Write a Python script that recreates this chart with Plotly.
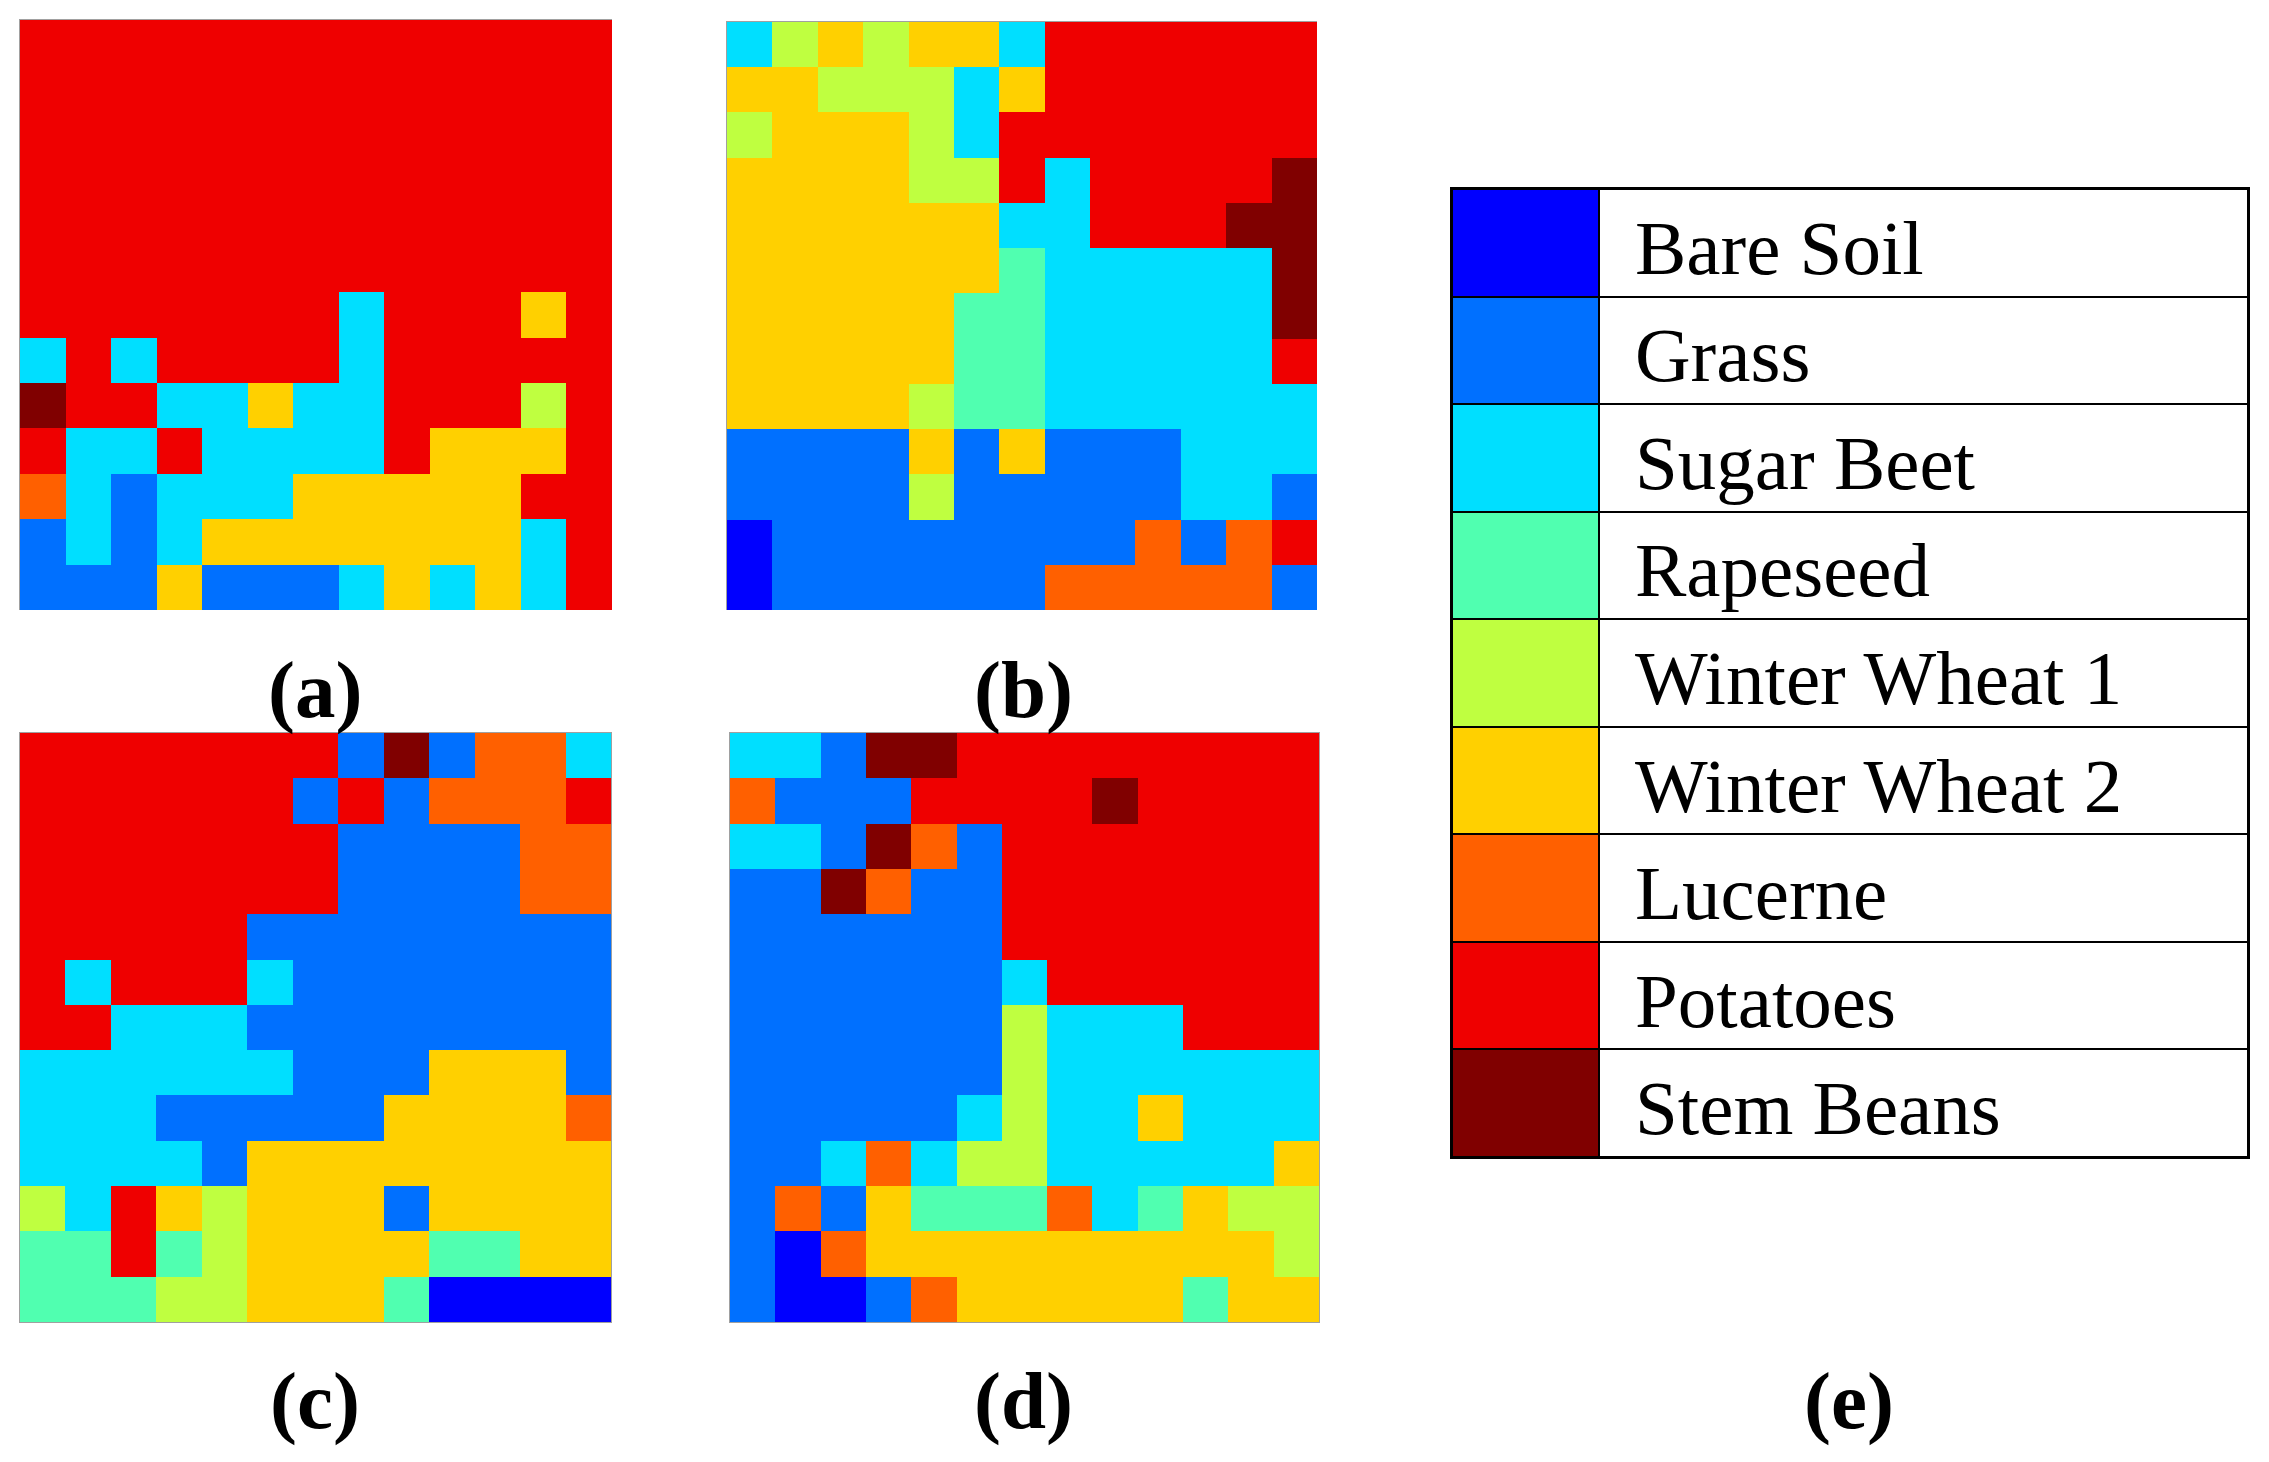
import plotly.graph_objects as go

WIDTH = 2269
HEIGHT = 1462

# classes in legend order, with their one letter codes used in the maps below
crops = ["Bare Soil", "Grass", "Sugar Beet", "Rapeseed", "Winter Wheat 1",
         "Winter Wheat 2", "Lucerne", "Potatoes", "Stem Beans"]
codes = "BGSRWYLPT"
crop_colors = ["#0000FF", "#0070FF", "#00DFFF", "#50FFB0", "#BFFF40",
               "#FFD000", "#FF6000", "#EF0000", "#800000"]

map_a = [
    "PPPPPPPPPPPPP",
    "PPPPPPPPPPPPP",
    "PPPPPPPPPPPPP",
    "PPPPPPPPPPPPP",
    "PPPPPPPPPPPPP",
    "PPPPPPPPPPPPP",
    "PPPPPPPSPPPYP",
    "SPSPPPPSPPPPP",
    "TPPSSYSSPPPWP",
    "PSSPSSSSPYYYP",
    "LSGSSSYYYYYPP",
    "GSGSYYYYYYYSP",
    "GGGYGGGSYSYSP",
]
map_b = [
    "SWYWYYSPPPPPP",
    "YYWWWSYPPPPPP",
    "WYYYWSPPPPPPP",
    "YYYYWWPSPPPPT",
    "YYYYYYSSPPPTT",
    "YYYYYYRSSSSST",
    "YYYYYRRSSSSST",
    "YYYYYRRSSSSSP",
    "YYYYWRRSSSSSS",
    "GGGGYGYGGGSSS",
    "GGGGWGGGGGSSG",
    "BGGGGGGGGLGLP",
    "BGGGGGGLLLLLG",
]
map_c = [
    "PPPPPPPGTGLLS",
    "PPPPPPGPGLLLP",
    "PPPPPPPGGGGLL",
    "PPPPPPPGGGGLL",
    "PPPPPGGGGGGGG",
    "PSPPPSGGGGGGG",
    "PPSSSGGGGGGGG",
    "SSSSSSGGGYYYG",
    "SSSGGGGGYYYYL",
    "SSSSGYYYYYYYY",
    "WSPYWYYYGYYYY",
    "RRPRWYYYYRRYY",
    "RRRWWYYYRBBBB",
]
map_d = [
    "SSGTTPPPPPPPP",
    "LGGGPPPPTPPPP",
    "SSGTLGPPPPPPP",
    "GGTLGGPPPPPPP",
    "GGGGGGPPPPPPP",
    "GGGGGGSPPPPPP",
    "GGGGGGWSSSPPP",
    "GGGGGGWSSSSSS",
    "GGGGGSWSSYSSS",
    "GGSLSWWSSSSSY",
    "GLGYRRRLSRYWW",
    "GBLYYYYYYYYYW",
    "GBBGLYYYYYRYY",
]

# pixel boxes of the panels: left, right, top, bottom, caption x, caption y
panels = [
    ("(a)", map_a, 20, 612, 20, 610, 315, 690),
    ("(b)", map_b, 727, 1317, 22, 610, 1023, 690),
    ("(c)", map_c, 20, 611, 733, 1322, 315, 1401),
    ("(d)", map_d, 730, 1319, 733, 1322, 1023, 1401),
]
legend_box = (1452, 2248, 189, 1157)
caption_font = dict(family="Liberation Serif", size=81, color="black")


def to_dom(left, right, top, bottom):
    return [left / WIDTH, right / WIDTH], [1 - bottom / HEIGHT, 1 - top / HEIGHT]


# stepped colorscale so every class gets exactly one flat colour
def stepped(colors):
    scale = []
    for i, c in enumerate(colors):
        scale.append([i / len(colors), c])
        scale.append([(i + 1) / len(colors), c])
    return scale


fig = go.Figure()
layout = {}
annotations = []

for n, (label, rows, left, right, top, bottom, cap_x, cap_y) in enumerate(panels, start=1):
    z = [[codes.index(ch) for ch in row] for row in rows]
    fig.add_trace(go.Heatmap(
        z=z,
        zmin=-0.5,
        zmax=8.5,
        colorscale=stepped(crop_colors),
        showscale=False,
        hoverinfo="skip",
        xaxis=f"x{n}",
        yaxis=f"y{n}",
    ))
    xdom, ydom = to_dom(left, right, top, bottom)
    # thin grey edge: top and left on the upper panels, all round on the lower ones
    edge = dict(showticklabels=False, ticks="", showgrid=False, zeroline=False,
                showline=True, linecolor="#A0A0A0", linewidth=1, mirror=n > 2)
    layout[f"xaxis{n}"] = dict(domain=xdom, range=[-0.5, 12.5], side="top", anchor=f"y{n}", **edge)
    layout[f"yaxis{n}"] = dict(domain=ydom, range=[12.5, -0.5], anchor=f"x{n}", **edge)
    annotations.append(dict(
        text=f"<b>{label}</b>", x=cap_x / WIDTH, y=1 - cap_y / HEIGHT,
        xref="paper", yref="paper", xanchor="center", yanchor="middle",
        showarrow=False, font=caption_font,
    ))

# legend table: swatch column, then a white column holding the names
legend_colors = crop_colors + ["#FFFFFF"]
legend_z = [[i, len(crops)] for i in range(len(crops))]
fig.add_trace(go.Heatmap(
    z=legend_z,
    x=[0, 1, 5.4],
    y=crops,
    zmin=-0.5,
    zmax=9.5,
    colorscale=stepped(legend_colors),
    showscale=False,
    hoverinfo="skip",
    xgap=2,
    ygap=2,
    xaxis="x5",
    yaxis="y5",
))
xdom, ydom = to_dom(*legend_box)
layout["xaxis5"] = dict(domain=xdom, range=[0, 5.4], showticklabels=False, ticks="",
                        showgrid=False, zeroline=False, anchor="y5",
                        showline=True, mirror=True, linecolor="black", linewidth=2)
layout["yaxis5"] = dict(domain=ydom, type="category", autorange="reversed", showticklabels=False,
                        ticks="", showgrid=False, zeroline=False, anchor="x5",
                        showline=True, mirror=True, linecolor="black", linewidth=2)

for name in crops:
    annotations.append(dict(
        text=name, x=1.23, y=name, xref="x5", yref="y5", xanchor="left", yshift=-5,
        showarrow=False, font=dict(family="Liberation Serif", size=77, color="black"),
    ))
annotations.append(dict(
    text="<b>(e)</b>", x=1849 / WIDTH, y=1 - 1401 / HEIGHT, xref="paper", yref="paper",
    xanchor="center", yanchor="middle", showarrow=False, font=caption_font,
))

fig.update_layout(
    width=WIDTH,
    height=HEIGHT,
    margin=dict(l=0, r=0, t=0, b=0),
    paper_bgcolor="white",
    plot_bgcolor="black",
    showlegend=False,
    annotations=annotations,
    **layout,
)

fig.write_html("out.html", config={"displayModeBar": False},
               post_script="document.body.style.margin = 0;")
